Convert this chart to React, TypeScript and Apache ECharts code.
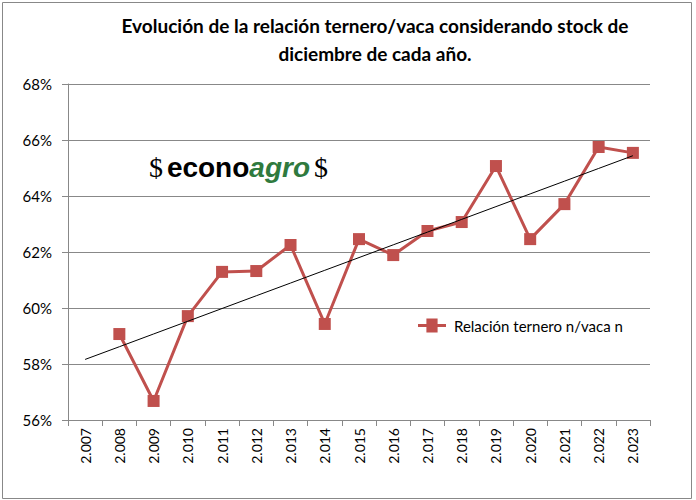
import React, { useEffect, useRef } from "react";
import * as echarts from "echarts";

const categories = ["2.007","2.008","2.009","2.010","2.011","2.012","2.013","2.014","2.015","2.016","2.017","2.018","2.019","2.020","2.021","2.022","2.023"];
const ratioValues: (number | null)[] = [null, 59.07, 56.68, 59.71, 61.29, 61.32, 62.25, 59.43, 62.46, 61.89, 62.75, 63.07, 65.07, 62.46, 63.71, 65.75, 65.54];
const seriesName = "Relación ternero n/vaca n";
const titleLines = ["Evolución de la relación ternero/vaca considerando stock de", "diciembre de cada año."];
const yMin = 56;
const yMax = 68;
const yStep = 2;

function trend(values: (number | null)[]): number[] {
  const pts: [number, number][] = [];
  values.forEach((v, i) => { if (v !== null) pts.push([i, v]); });
  const n = pts.length;
  const mx = pts.reduce((s, p) => s + p[0], 0) / n;
  const my = pts.reduce((s, p) => s + p[1], 0) / n;
  let sxy = 0, sxx = 0;
  pts.forEach(([x, y]) => { sxy += (x - mx) * (y - my); sxx += (x - mx) * (x - mx); });
  const b = sxy / sxx;
  const a = my - b * mx;
  return values.map((_, i) => +(a + b * i).toFixed(3));
}

export default function App() {
  const ref = useRef<HTMLDivElement>(null);
  useEffect(() => {
    document.body.style.margin = "0";
    const chart = echarts.init(ref.current!, null, { renderer: "svg" });
    const font = "Lato, 'Open Sans', sans-serif";
    chart.setOption({
      animation: false,
      backgroundColor: "#ffffff",
      textStyle: { fontFamily: font },
      grid: { left: 68, right: 46, top: 84, bottom: 80 },
      legend: {
        data: [{ name: seriesName, icon: "path://M0,4 L6,4 L6,0 L14,0 L14,4 L20,4 L20,6 L14,6 L14,10 L6,10 L6,6 L0,6 Z" }],
        left: 413, top: 313,
        itemWidth: 34, itemHeight: 14, itemGap: 4,
        textStyle: { fontSize: 15, color: "#000", fontFamily: font },
      },
      graphic: [
        { type: "rect", shape: { x: 2.5, y: 2.5, width: 689, height: 496 }, style: { fill: "none", stroke: "#888", lineWidth: 1 }, silent: true },
        { type: "text", x: 375, y: 16, style: { text: titleLines[0], fontSize: 19, fontWeight: "bold", fontFamily: font, fill: "#000", align: "center" } },
        { type: "text", x: 375, y: 44, style: { text: titleLines[1], fontSize: 19, fontWeight: "bold", fontFamily: font, fill: "#000", align: "center" } },
        {
          type: "text", x: 149, y: 153,
          style: {
            text: "{d|$}{s| }{e|econo}{a|agro}{s| }{d|$}",
            rich: {
              d: { fontSize: 28, fontFamily: "'Liberation Serif', serif", fill: "#000", textStroke: "#d38a2a", lineWidth: 0.6 },
              s: { fontSize: 14 },
              e: { fontSize: 28, fontWeight: "bold", fontFamily: "'Liberation Sans', Arial, sans-serif", fill: "#000" },
              a: { fontSize: 28, fontWeight: "bold", fontStyle: "italic", fontFamily: "'Liberation Sans', Arial, sans-serif", fill: "#2f7a3e" },
            },
          },
        },
      ],
      xAxis: {
        type: "category",
        data: categories,
        boundaryGap: true,
        axisLine: { lineStyle: { color: "#888", width: 1 } },
        axisTick: { show: true, length: 6, lineStyle: { color: "#888" } },
        axisLabel: { rotate: 90, fontSize: 14, color: "#000", margin: 8, fontFamily: font },
      },
      yAxis: {
        type: "value",
        min: yMin, max: yMax, interval: yStep,
        axisLine: { show: true, lineStyle: { color: "#888", width: 1 } },
        axisTick: { show: true, length: 6, lineStyle: { color: "#888" } },
        splitLine: { lineStyle: { color: "#888", width: 1 } },
        axisLabel: { formatter: (v: number) => v + "%", fontSize: 15, color: "#000", margin: 16, fontFamily: font },
      },
      series: [
        {
          name: seriesName,
          type: "line",
          data: ratioValues.map((v) => (v === null ? "-" : v)),
          lineStyle: { color: "#c0504d", width: 3 },
          itemStyle: { color: "#c0504d" },
          symbol: "rect",
          symbolSize: 12,
          z: 3,
        },
        {
          name: "trend",
          type: "line",
          data: trend(ratioValues),
          lineStyle: { color: "#000", width: 1 },
          symbol: "none",
          z: 4,
          silent: true,
        },
      ],
    });
    return () => chart.dispose();
  }, []);
  return <div ref={ref} style={{ width: 696, height: 500 }} />;
}
